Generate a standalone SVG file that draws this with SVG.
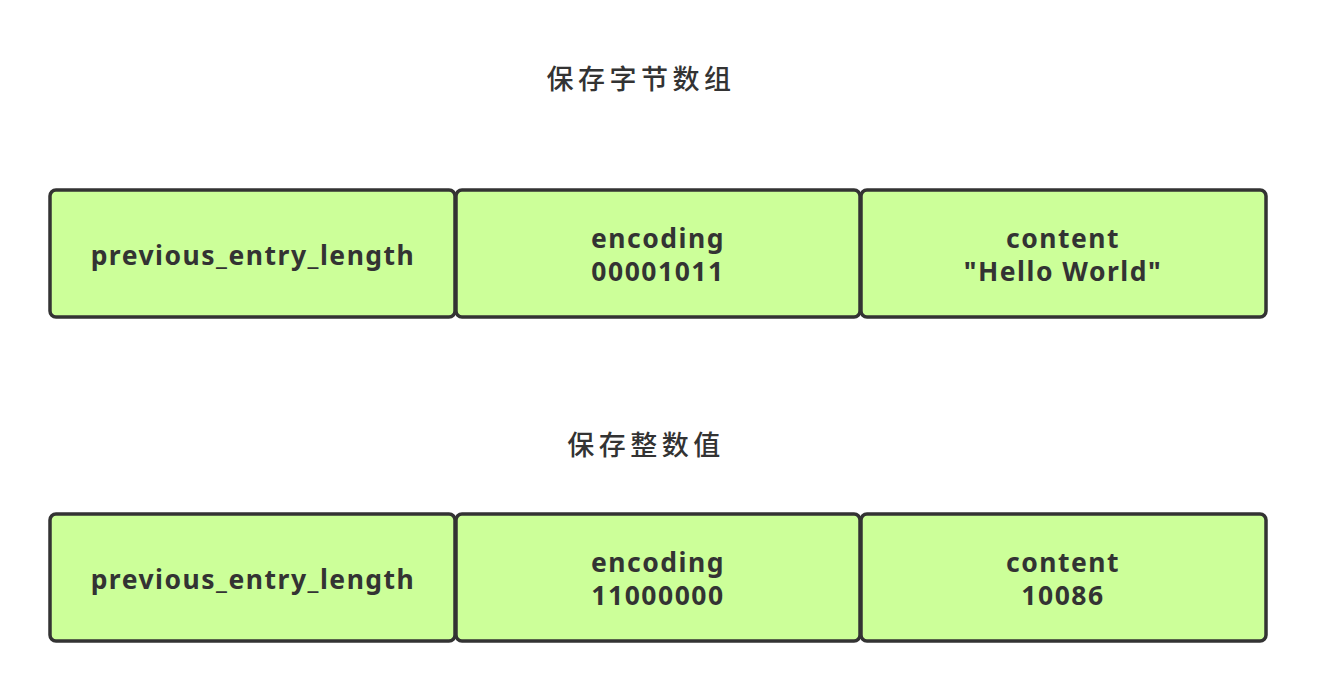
<svg xmlns="http://www.w3.org/2000/svg" width="1317" height="692" viewBox="0 0 1317 692">
<style>
.box{fill:#ccff99;stroke:#333333;stroke-width:3.5}
.lbl{font-family:"Noto Sans","Open Sans","Liberation Sans",sans-serif;font-weight:bold;font-size:26.5px;fill:#333333;text-anchor:middle;letter-spacing:1.5px}
.title{font-family:"Noto Sans CJK SC",serif;font-weight:500;font-size:27px;fill:#333333;text-anchor:middle;letter-spacing:4.5px}
</style>
<rect width="1317" height="692" fill="#ffffff"/>
<text class="title" x="641" y="89">保存字节数组</text>
<text class="title" x="646" y="455">保存整数值</text>
<g id="row1-prev"><rect class="box" x="50" y="190" width="405" height="127" rx="6"/><text class="lbl" x="253" y="265">previous_entry_length</text></g>
<g id="row1-enc"><rect class="box" x="456" y="190" width="404" height="127" rx="6"/><text class="lbl" x="658" y="248">encoding</text><text class="lbl" x="658" y="281">00001011</text></g>
<g id="row1-content"><rect class="box" x="861" y="190" width="405" height="127" rx="6"/><text class="lbl" x="1063" y="248">content</text><text class="lbl" x="1063" y="281">"Hello World"</text></g>
<g id="row2-prev"><rect class="box" x="50" y="514" width="405" height="127" rx="6"/><text class="lbl" x="253" y="589">previous_entry_length</text></g>
<g id="row2-enc"><rect class="box" x="456" y="514" width="404" height="127" rx="6"/><text class="lbl" x="658" y="572">encoding</text><text class="lbl" x="658" y="605">11000000</text></g>
<g id="row2-content"><rect class="box" x="861" y="514" width="405" height="127" rx="6"/><text class="lbl" x="1063" y="572">content</text><text class="lbl" x="1063" y="605">10086</text></g>
<g id="connectors"></g>
</svg>
